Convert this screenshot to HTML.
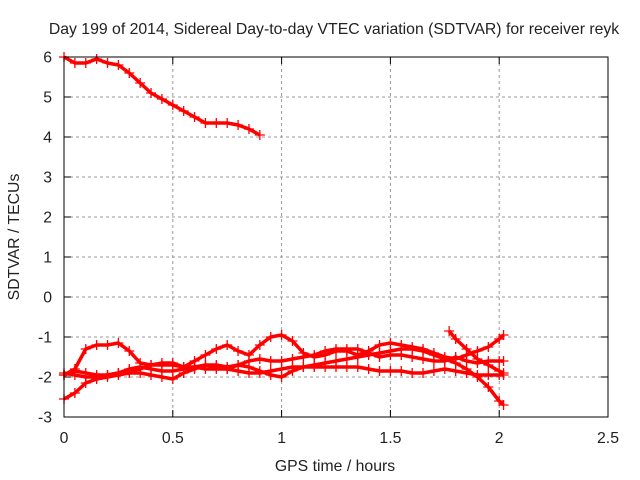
<!DOCTYPE html>
<html><head><meta charset="utf-8"><style>
body{margin:0;background:#fff}
svg{display:block;font-family:"Liberation Sans",sans-serif}
</style></head><body>
<svg id="chart" width="640" height="480" viewBox="0 0 640 480">
<text x="334" y="34" font-size="15.8" text-anchor="middle" fill="#222">Day 199 of 2014, Sidereal Day-to-day VTEC variation (SDTVAR) for receiver reyk</text>
<text x="335" y="471" font-size="15.8" text-anchor="middle" fill="#222">GPS time / hours</text>
<text x="19" y="237" font-size="15.8" text-anchor="middle" fill="#222" transform="rotate(-90 19 237)">SDTVAR / TECUs</text>
<g id="grid"></g><g id="ticks"></g><g id="series"></g>
<rect x="64" y="57" width="544" height="360" fill="none" stroke="#000" stroke-width="1"/>
</svg>
<script>
const xTicks=[0,0.5,1,1.5,2,2.5];
const xTickLabels=["0","0.5","1","1.5","2","2.5"];
const yTicks=[-3,-2,-1,0,1,2,3,4,5,6];
const yTickLabels=["-3","-2","-1","0","1","2","3","4","5","6"];
const xsTop=[0,0.05,0.1,0.15,0.2,0.25,0.3,0.35,0.4,0.45,0.5,0.55,0.6,0.65,0.7,0.75,0.8,0.85,0.9];
const ysTop=[6.0,5.85,5.85,5.95,5.85,5.8,5.6,5.35,5.1,4.95,4.8,4.65,4.5,4.35,4.35,4.35,4.3,4.2,4.05];
const xsMain=[0,0.05,0.1,0.15,0.2,0.25,0.3,0.35,0.4,0.45,0.5,0.55,0.6,0.65,0.7,0.75,0.8,0.85,0.9,0.95,1.0,1.05,1.1,1.15,1.2,1.25,1.3,1.35,1.4,1.45,1.5,1.55,1.6,1.65,1.7,1.75,1.8,1.85,1.9,1.95,2.0,2.02];
const ysA=[-1.95,-1.8,-1.3,-1.2,-1.2,-1.15,-1.35,-1.65,-1.7,-1.7,-1.7,-1.75,-1.6,-1.45,-1.3,-1.2,-1.35,-1.45,-1.2,-1.0,-0.95,-1.1,-1.4,-1.5,-1.45,-1.35,-1.35,-1.45,-1.35,-1.2,-1.15,-1.2,-1.25,-1.3,-1.4,-1.5,-1.55,-1.45,-1.35,-1.25,-1.05,-0.95];
const ysB=[-1.95,-1.85,-1.9,-1.95,-1.95,-1.9,-1.85,-1.8,-1.7,-1.65,-1.65,-1.75,-1.75,-1.8,-1.8,-1.8,-1.7,-1.6,-1.55,-1.6,-1.6,-1.55,-1.5,-1.45,-1.35,-1.3,-1.3,-1.3,-1.4,-1.5,-1.45,-1.45,-1.5,-1.55,-1.6,-1.6,-1.5,-1.6,-1.65,-1.6,-1.6,-1.6];
const ysC=[-2.55,-2.4,-2.15,-2.05,-2.0,-1.95,-1.9,-1.9,-1.95,-2.0,-2.05,-1.9,-1.8,-1.7,-1.7,-1.75,-1.7,-1.75,-1.85,-1.95,-2.0,-1.85,-1.75,-1.7,-1.65,-1.6,-1.55,-1.5,-1.45,-1.4,-1.35,-1.3,-1.3,-1.35,-1.45,-1.55,-1.65,-1.8,-2.0,-2.25,-2.6,-2.7];
const ysD=[-1.9,-1.95,-2.0,-2.0,-1.95,-1.9,-1.8,-1.75,-1.8,-1.85,-1.85,-1.8,-1.75,-1.7,-1.75,-1.8,-1.85,-1.9,-1.9,-1.85,-1.8,-1.75,-1.75,-1.75,-1.75,-1.75,-1.75,-1.75,-1.8,-1.85,-1.85,-1.85,-1.9,-1.9,-1.85,-1.8,-1.85,-1.9,-1.95,-1.95,-1.95,-1.95];
const xsE=[1.77,1.8,1.85,1.9,1.95,2.0,2.02];
const ysE=[-0.85,-1.05,-1.3,-1.55,-1.7,-1.85,-1.9];
const X=v=>64+v*217.6, Y=v=>297-v*40;
const NS="http://www.w3.org/2000/svg";
function mk(t,a,p){const e=document.createElementNS(NS,t);for(const k in a)e.setAttribute(k,a[k]);p.appendChild(e);return e;}
const grid=document.getElementById('grid'),ticks=document.getElementById('ticks'),ser=document.getElementById('series');
xTicks.forEach((v,i)=>{
 if(v>0&&v<2.5){const g=mk('line',{x1:X(v),x2:X(v),y1:57,y2:417,stroke:'#999','stroke-dasharray':'3,3'},grid);
 }
 mk('line',{x1:X(v),x2:X(v),y1:417,y2:410,stroke:'#000'},ticks);
 mk('line',{x1:X(v),x2:X(v),y1:57,y2:64,stroke:'#000'},ticks);
 const t=mk('text',{x:X(v),y:443,'font-size':15.8,'text-anchor':'middle',fill:'#222'},ticks);t.textContent=xTickLabels[i];
 
});
yTicks.forEach((v,i)=>{
 if(v>-3&&v<6){const g=mk('line',{x1:64,x2:608,y1:Y(v),y2:Y(v),stroke:'#999','stroke-dasharray':'3,3'},grid);
 }
 mk('line',{x1:64,x2:71,y1:Y(v),y2:Y(v),stroke:'#000'},ticks);
 mk('line',{x1:608,x2:601,y1:Y(v),y2:Y(v),stroke:'#000'},ticks);
 const t=mk('text',{x:52,y:Y(v)+5.5,'font-size':15.8,'text-anchor':'end',fill:'#222'},ticks);t.textContent=yTickLabels[i];
 
});
function draw(xs,ys,name){
 const g=mk('g',{},ser);
 
 
 let d='';xs.forEach((x,i)=>{d+=(i?'L':'M')+X(x)+' '+Y(ys[i]);});
 mk('path',{d:d,fill:'none',stroke:'#f00','stroke-width':3.5,'stroke-linejoin':'round'},g);
 xs.forEach((x,i)=>{const cx=X(x),cy=Y(ys[i]);
  mk('path',{d:`M${cx-5} ${cy}H${cx+5}M${cx} ${cy-5}V${cy+5}`,stroke:'#f00','stroke-width':1.3},g);});
}
draw(xsTop,ysTop,'series-top');
draw(xsMain,ysA,'series-a');
draw(xsMain,ysB,'series-b');
draw(xsMain,ysC,'series-c');
draw(xsMain,ysD,'series-d');
draw(xsE,ysE,'series-e');
</script>
</body></html>
